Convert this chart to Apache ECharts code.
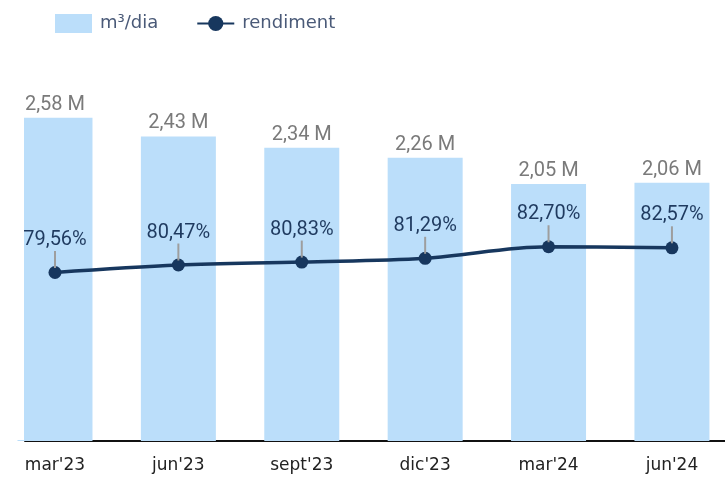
<!DOCTYPE html>
<html>
<head>
<meta charset="utf-8">
<script src="https://cdn.jsdelivr.net/npm/echarts@6/dist/echarts.min.js"></script>
<style>
  html, body { margin: 0; padding: 0; background: #fff; }
  #chart { width: 725px; height: 477px; }
</style>
</head>
<body>
<div id="chart"></div>
<script>
var categories = ["mar'23", "jun'23", "sept'23", "dic'23", "mar'24", "jun'24"];
var volumen = [2.58, 2.43, 2.34, 2.26, 2.05, 2.06];      // millones m3/dia
var rendiment = [79.56, 80.47, 80.83, 81.29, 82.70, 82.57];

function comma(v) {
    return v.toFixed(2).replace('.', ',');
}

// the x axis is numeric so the first bar can be cut at the left edge like the original
var barData = volumen.map(function (v, i) { return [i, v]; });
var lineData = rendiment.map(function (v, i) { return [i, v]; });

var chart = echarts.init(document.getElementById('chart'));
chart.setOption({
    animation: false,
    legend: {
        left: 50,
        top: 9,
        itemGap: 38,
        itemWidth: 37,
        itemHeight: 19,
        textStyle: { fontFamily: 'DejaVu Sans', fontSize: 18, color: '#4a5a78', padding: [0, 0, 0, 3] },
        data: [
            { name: 'm³/dia', icon: 'rect' },
            { name: 'rendiment' }
        ]
    },
    grid: { left: 25, right: 0, top: 41, bottom: 36 },
    xAxis: {
        type: 'value',
        min: -0.243,
        max: 5.43,
        splitLine: { show: false },
        axisLine: { show: true, onZero: false, lineStyle: { color: '#111', width: 2 } },
        axisTick: { show: false },
        axisLabel: {
            customValues: [0, 1, 2, 3, 4, 5],
            fontFamily: 'DejaVu Sans',
            fontSize: 17,
            color: '#222',
            margin: 16,
            formatter: function (v) { return categories[v]; }
        }
    },
    yAxis: [
        { type: 'value', min: 0, max: 3.192, show: false },
        { type: 'value', min: 59, max: 107.8, show: false }
    ],
    series: [
        {
            name: 'm³/dia',
            type: 'bar',
            data: barData,
            barWidth: 75,
            clip: true,
            itemStyle: { color: '#bbdefa' },
            label: {
                show: true,
                position: 'top',
                distance: 3,
                fontFamily: 'Roboto',
                fontSize: 20,
                color: '#7a7a7a',
                formatter: function (p) { return comma(p.value[1]) + ' M'; }
            }
        },
        {
            name: 'rendiment',
            type: 'line',
            yAxisIndex: 1,
            data: lineData,
            smooth: 0.35,
            symbol: 'circle',
            symbolSize: 13,
            lineStyle: { color: '#17375e', width: 3.5 },
            itemStyle: { color: '#17375e' },
            label: {
                show: true,
                position: 'top',
                distance: -2,
                align: 'center',
                formatter: function (p) { return '{v|' + comma(p.value[1]) + '%}\n{l|}'; },
                rich: {
                    v: { fontFamily: 'Roboto', fontSize: 20, color: '#1f3a5f', lineHeight: 22, align: 'center' },
                    l: { width: 2, height: 17, backgroundColor: '#9e9e9e', align: 'center' }
                }
            }
        }
    ],
    graphic: [
        {
            type: 'rect',
            z: 100,
            shape: { x: 0, y: 40, width: 24, height: 400 },
            style: { fill: '#fff' }
        }
    ]
});
</script>
</body>
</html>
